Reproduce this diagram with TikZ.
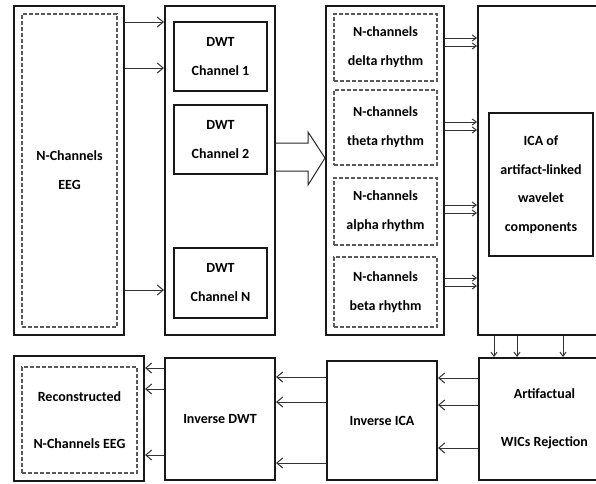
\documentclass[tikz,border=0pt]{standalone}
\usepackage{fontspec}
\setmainfont{Carlito}
\usetikzlibrary{arrows.meta,calc}
\tikzset{
  outer/.style={draw=black!90, line width=2pt, minimum width=#1, inner sep=0pt},
  dbox/.style={draw=black!65, line width=1.8pt, dash pattern=on 4pt off 2pt, inner sep=0pt, align=center, font=\bfseries\fontsize{14}{29}\selectfont},
  sbox/.style={draw=black!90, line width=2pt, inner sep=0pt, align=center, font=\bfseries\fontsize{14}{29}\selectfont},
  arr/.style={draw=black!80, line width=1pt, -{Straight Barb[length=6pt,width=10pt]}},
  sarr/.style={draw=black!80, line width=1pt, -{Straight Barb[length=4pt,width=6pt]}},
}
\begin{document}
\begin{tikzpicture}[x=1pt,y=-1pt]
\useasboundingbox (0,0) rectangle (596,483);
% top row
\node[outer=110pt, minimum height=329pt] (eeg) at (69,170.5) {};
\node[dbox, minimum width=95pt, minimum height=313pt] (eegin) at (69.5,170.5) {N-Channels\\EEG};
\node[outer=110pt, minimum height=329pt] (dwt) at (220,170.5) {};
\node[sbox, minimum width=93pt, minimum height=69pt] (dwt1) at (220.5,56.5) {DWT\\Channel 1};
\node[sbox, minimum width=93pt, minimum height=69pt] (dwt2) at (220.5,139.5) {DWT\\Channel 2};
\node[sbox, minimum width=93pt, minimum height=70pt] (dwtn) at (220.5,283) {DWT\\Channel N};
\node[outer=118pt, minimum height=329pt] (rhy) at (385,170.5) {};
\node[dbox, minimum width=103pt, minimum height=67pt] (delta) at (385.5,47.5) {N-channels\\delta rhythm};
\node[dbox, minimum width=103pt, minimum height=75pt] (theta) at (385.5,127.5) {N-channels\\theta rhythm};
\node[dbox, minimum width=103pt, minimum height=67pt] (alpha) at (385.5,211.5) {N-channels\\alpha rhythm};
\node[dbox, minimum width=103pt, minimum height=70pt] (beta) at (385.5,292) {N-channels\\beta rhythm};
\node[outer=132pt, minimum height=329pt] (icabig) at (544,170.5) {};
\node[sbox, minimum width=104pt, minimum height=143pt, font=\bfseries\fontsize{14}{28.5}\selectfont] (icain) at (541,184.5) {ICA of\\artifact-linked\\wavelet\\components};
% bottom row
\node[outer=130pt, minimum height=125pt] (rec) at (79,418.5) {};
\node[dbox, minimum width=115pt, minimum height=106pt, font=\bfseries\fontsize{14}{47}\selectfont] (recin) at (79.5,420) {Reconstructed\\N-Channels EEG};
\node[sbox, minimum width=110pt, minimum height=122pt] (idwt) at (220,419) {Inverse DWT};
\node[sbox, minimum width=110pt, minimum height=119pt] (iica) at (382,420.5) {Inverse ICA};
\node[sbox, minimum width=131pt, minimum height=122pt, font=\bfseries\fontsize{14}{48}\selectfont] (art) at (544.5,419) {Artifactual\\WICs Rejection};
% EEG -> DWT
\foreach \yy in {22,68,290} \draw[arr] (eeg.east |- 0,\yy) -- (dwt.west |- 0,\yy);
% big hollow arrow
\draw[black!85, line width=1pt, fill=white] (dwt.east |- 0,143) -- (308,143) -- (308,132) -- (rhy.west |- 0,158) -- (308,185) -- (308,171) -- (dwt.east |- 0,171);
% double arrows rhythm -> ICA
\foreach \yy in {38,46,122,130,205,213,278,286} \draw[sarr] (rhy.east |- 0,\yy) -- (icabig.west |- 0,\yy);
% down arrows
\foreach \xx in {494,517,563} \draw[sarr] (icabig.south -| \xx,0) -- (art.north -| \xx,0);
% bottom leftward arrows
\foreach \yy in {378,405,448} \draw[arr] (art.west |- 0,\yy) -- (iica.east |- 0,\yy);
\foreach \yy in {377,402,463} \draw[arr] (iica.west |- 0,\yy) -- (idwt.east |- 0,\yy);
\foreach \yy in {368,389,455} \draw[arr] (idwt.west |- 0,\yy) -- (rec.east |- 0,\yy);
\end{tikzpicture}
\end{document}
